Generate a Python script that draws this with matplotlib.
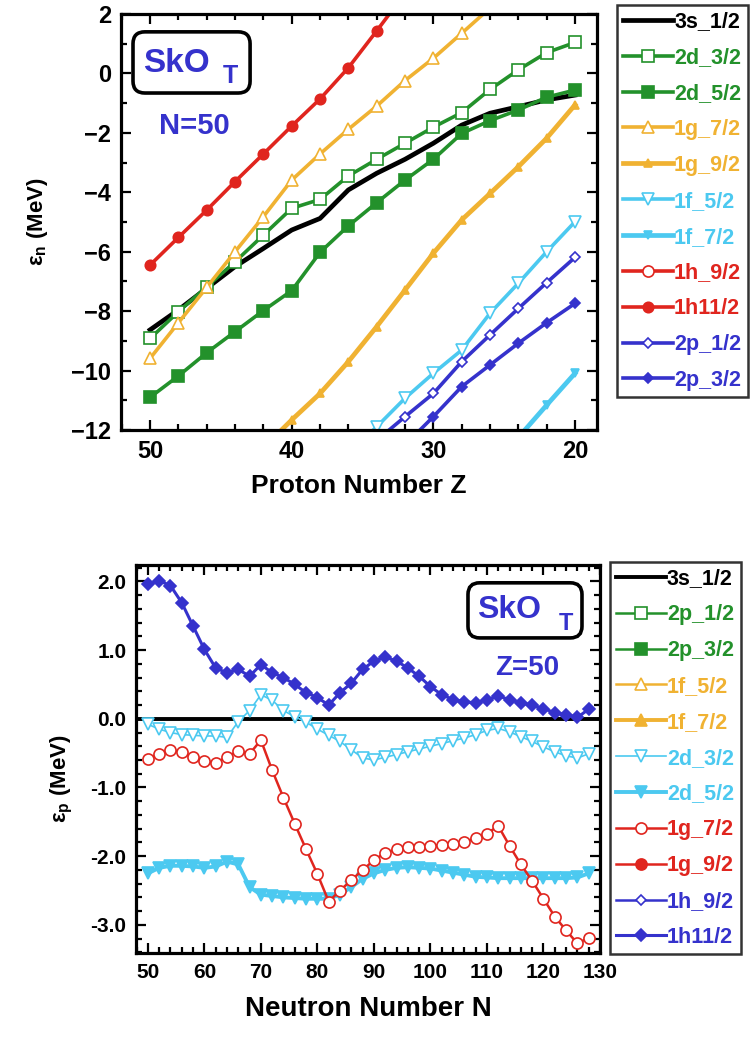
import numpy as np
import matplotlib.pyplot as plt
from matplotlib.patches import FancyBboxPatch
from matplotlib.ticker import MultipleLocator, FormatStrFormatter

plt.rcParams['font.family'] = ['Liberation Sans', 'DejaVu Sans']
plt.rcParams['font.weight'] = 'bold'
plt.rcParams['mathtext.fontset'] = 'custom'
plt.rcParams['mathtext.rm'] = 'Liberation Sans:bold'
plt.rcParams['mathtext.bf'] = 'Liberation Sans:bold'
plt.rcParams['mathtext.it'] = 'Liberation Sans:bold'

# colours
green = '#23912B'
orange = '#F0B232'
cyan = '#4CC9F0'
red = '#E0251E'
blue = '#3532CC'

# --- top panel data: neutron levels of N=50 isotones vs Z
z_3s12 = [50, 48, 46, 44, 42, 40, 38, 36, 34, 32, 30, 28, 26, 24, 22, 20]
e_3s12 = [-8.63, -7.96, -7.23, -6.50, -5.89, -5.27, -4.88, -3.92, -3.36, -2.89,
          -2.35, -1.74, -1.34, -1.12, -0.89, -0.73]
z_2d32 = z_3s12
e_2d32 = [-8.92, -8.02, -7.18, -6.34, -5.44, -4.54, -4.24, -3.45, -2.89, -2.35,
          -1.81, -1.32, -0.54, 0.12, 0.70, 1.04]
z_2d52 = z_3s12
e_2d52 = [-10.90, -10.18, -9.40, -8.69, -7.98, -7.31, -6.02, -5.13, -4.35, -3.59,
          -2.89, -2.02, -1.59, -1.23, -0.80, -0.56]
z_1g72 = [50, 48, 46, 44, 42, 40, 38, 36, 34, 32, 30, 28, 26, 24]
e_1g72 = [-9.59, -8.39, -7.20, -6.00, -4.82, -3.59, -2.71, -1.88, -1.10, -0.24,
          0.51, 1.35, 2.2, 2.9]
z_1g92 = [42, 40, 38, 36, 34, 32, 30, 28, 26, 24, 22, 20]
e_1g92 = [-12.6, -11.66, -10.77, -9.70, -8.52, -7.29, -6.05, -4.93, -4.04, -3.14,
          -2.18, -1.06]
z_1f52 = [36, 34, 32, 30, 28, 26, 24, 22, 20]
e_1f52 = [-12.8, -11.89, -10.93, -10.09, -9.31, -8.07, -7.06, -6.00, -4.99]
z_1f72 = [24, 22, 20]
e_1f72 = [-12.25, -11.16, -10.09]
z_1h92 = []
e_1h92 = []
z_1h112 = [50, 48, 46, 44, 42, 40, 38, 36, 34, 32]
e_1h112 = [-6.45, -5.52, -4.60, -3.64, -2.71, -1.77, -0.86, 0.19, 1.43, 2.7]
z_2p12 = [34, 32, 30, 28, 26, 24, 22, 20]
e_2p12 = [-12.35, -11.55, -10.77, -9.70, -8.80, -7.91, -7.04, -6.19]
z_2p32 = [32, 30, 28, 26, 24, 22, 20]
e_2p32 = [-12.5, -11.55, -10.54, -9.81, -9.08, -8.39, -7.74]

# --- bottom panel data: proton levels of Z=50 isotopes vs N
n_vals = list(range(50, 130, 2))
p_1h112 = [1.96, 2.01, 1.94, 1.69, 1.35, 1.01, 0.74, 0.67, 0.72, 0.62,
           0.79, 0.67, 0.60, 0.50, 0.38, 0.31, 0.20, 0.38, 0.52, 0.72,
           0.84, 0.90, 0.84, 0.74, 0.62, 0.47, 0.35, 0.28, 0.25, 0.23,
           0.28, 0.33, 0.28, 0.23, 0.20, 0.15, 0.09, 0.06, 0.02, 0.14]
p_2d32 = [-0.08, -0.15, -0.20, -0.23, -0.24, -0.25, -0.25, -0.27, -0.04, 0.12,
          0.35, 0.27, 0.12, 0.03, -0.05, -0.15, -0.24, -0.33, -0.45, -0.57,
          -0.60, -0.56, -0.52, -0.48, -0.44, -0.40, -0.36, -0.32, -0.28, -0.23,
          -0.17, -0.14, -0.19, -0.26, -0.33, -0.41, -0.48, -0.54, -0.57, -0.51]
p_2d52 = [-2.25, -2.17, -2.14, -2.14, -2.15, -2.17, -2.15, -2.08, -2.12, -2.45,
          -2.56, -2.58, -2.60, -2.61, -2.62, -2.62, -2.62, -2.56, -2.45, -2.33,
          -2.25, -2.20, -2.17, -2.16, -2.17, -2.18, -2.21, -2.24, -2.27, -2.30,
          -2.31, -2.32, -2.32, -2.32, -2.32, -2.32, -2.32, -2.32, -2.31, -2.25]
p_1g72 = [-0.59, -0.51, -0.45, -0.49, -0.56, -0.62, -0.64, -0.56, -0.47, -0.51,
          -0.31, -0.75, -1.15, -1.53, -1.90, -2.26, -2.66, -2.50, -2.35, -2.20,
          -2.06, -1.95, -1.90, -1.87, -1.86, -1.85, -1.84, -1.82, -1.79, -1.74,
          -1.67, -1.56, -1.85, -2.12, -2.36, -2.62, -2.88, -3.08, -3.27, -3.19]

fig = plt.figure(figsize=(7.53, 10.42), dpi=100)
ax1 = fig.add_axes([0.1607, 0.5873, 0.6321, 0.3993])
ax2 = fig.add_axes([0.1806, 0.0854, 0.6162, 0.3724])

def style(m, c, filled, ms, lw):
    return dict(marker=m, color=c, mec=c, mfc=c if filled else 'white',
                ms=ms, lw=lw, mew=1.2)

def sko_box(ax, x0, y0, w, h, aspect):
    # rounded frame around the "SkO_T" tag (axes coords)
    ax.add_patch(FancyBboxPatch((x0, y0), w, h, transform=ax.transAxes,
                                boxstyle='round,pad=0,rounding_size=0.025',
                                mutation_aspect=aspect, fc='white',
                                ec='black', lw=2.6, zorder=5))

# top panel
lw1 = 2.6
ax1.plot(z_3s12, e_3s12, color='black', lw=3.4, label='3s_1/2')
ax1.plot(z_2d32, e_2d32, label='2d_3/2', **style('s', green, False, 8, lw1))
ax1.plot(z_2d52, e_2d52, label='2d_5/2', **style('s', green, True, 8, lw1))
ax1.plot(z_1g72, e_1g72, label='1g_7/2', **style('^', orange, False, 8.5, lw1))
ax1.plot(z_1g92, e_1g92, label='1g_9/2', **style('^', orange, True, 6, lw1 + 0.8))
ax1.plot(z_1f52, e_1f52, label='1f_5/2', **style('v', cyan, False, 8.5, lw1))
ax1.plot(z_1f72, e_1f72, label='1f_7/2', **style('v', cyan, True, 6, lw1 + 0.8))
ax1.plot(z_1h92, e_1h92, label='1h_9/2', **style('o', red, False, 8, lw1))
ax1.plot(z_1h112, e_1h112, label='1h11/2', **style('o', red, True, 7.5, lw1))
ax1.plot(z_2p12, e_2p12, label='2p_1/2', **style('D', blue, False, 5.5, lw1))
ax1.plot(z_2p32, e_2p32, label='2p_3/2', **style('D', blue, True, 5.5, lw1))

ax1.set_xlim(52.05, 18.45)
ax1.set_ylim(-12, 2)
ax1.xaxis.set_major_locator(MultipleLocator(10))
ax1.xaxis.set_minor_locator(MultipleLocator(2))
ax1.yaxis.set_major_locator(MultipleLocator(2))
ax1.yaxis.set_minor_locator(MultipleLocator(1))
ax1.set_xlabel('Proton Number Z', fontsize=19, fontweight='bold', labelpad=8)
ax1.set_ylabel('ε$_\\mathrm{n}$ (MeV)', fontsize=16, fontweight='bold')
ax1.yaxis.set_label_coords(-0.15, 0.5)

# SkO_T tag and N=50 label
sko_box(ax1, 0.0252, 0.810, 0.246, 0.147, 476 / 416)
ax1.text(0.046, 0.861, 'SkO', transform=ax1.transAxes, fontsize=24,
         color=blue, ha='left', va='baseline', zorder=6)
ax1.text(0.229, 0.834, 'T', transform=ax1.transAxes, fontsize=18,
         color=blue, ha='center', va='baseline', zorder=6)
ax1.text(0.155, 0.731, 'N=50', transform=ax1.transAxes, fontsize=21,
         color=blue, ha='center', va='center')

# bottom panel
lw2 = 1.8
ax2.axhline(0, color='black', lw=2.8, label='3s_1/2')
ax2.plot([], [], label='2p_1/2', **style('s', green, False, 8, lw2))
ax2.plot([], [], label='2p_3/2', **style('s', green, True, 8, lw2))
ax2.plot([], [], label='1f_5/2', **style('^', orange, False, 8, lw2))
ax2.plot([], [], label='1f_7/2', **style('^', orange, True, 8, lw2 + 1))
ax2.plot(n_vals, p_2d32, label='2d_3/2', **style('v', cyan, False, 8.5, 1.2))
ax2.plot(n_vals, p_2d52, label='2d_5/2', **style('v', cyan, True, 8.5, lw2 + 1))
ax2.plot(n_vals, p_1g72, label='1g_7/2', **style('o', red, False, 8, lw2))
ax2.plot([], [], label='1g_9/2', **style('o', red, True, 8, lw2))
ax2.plot([], [], label='1h_9/2', **style('D', blue, False, 5.5, lw2))
ax2.plot(n_vals, p_1h112, label='1h11/2', **style('D', blue, True, 6, lw2 + 0.4))

ax2.set_xlim(47.9, 130)
ax2.set_ylim(-3.41, 2.24)
ax2.xaxis.set_major_locator(MultipleLocator(10))
ax2.xaxis.set_minor_locator(MultipleLocator(2))
ax2.yaxis.set_major_locator(MultipleLocator(1))
ax2.yaxis.set_minor_locator(MultipleLocator(0.2))
ax2.yaxis.set_major_formatter(FormatStrFormatter('%.1f'))
ax2.set_xlabel('Neutron Number N', fontsize=20, fontweight='bold', labelpad=10)
ax2.set_ylabel('ε$_\\mathrm{p}$ (MeV)', fontsize=16, fontweight='bold')
ax2.yaxis.set_label_coords(-0.131, 0.45)

sko_box(ax2, 0.7155, 0.812, 0.2457, 0.142, 464 / 388)
ax2.text(0.735, 0.863, 'SkO', transform=ax2.transAxes, fontsize=23,
         color=blue, ha='left', va='baseline', zorder=6)
ax2.text(0.927, 0.8325, 'T', transform=ax2.transAxes, fontsize=17,
         color=blue, ha='center', va='baseline', zorder=6)
ax2.text(0.843, 0.735, 'Z=50', transform=ax2.transAxes, fontsize=20,
         color=blue, ha='center', va='center')

for ax, fs in ((ax1, 17), (ax2, 15)):
    ax.tick_params(which='both', direction='in', top=True, right=True,
                   labelsize=fs, width=1.6)
    ax.tick_params(which='major', length=7, pad=7)
    ax.tick_params(which='minor', length=4)
    for sp in ax.spines.values():
        sp.set_linewidth(2.3)
    for lab in ax.get_xticklabels() + ax.get_yticklabels():
        lab.set_fontweight('bold')

text_cols = ['black', green, green, orange, orange, cyan, cyan, red, red, blue, blue]

for ax, anchor in ((ax1, (0.8194, 0.9952)), (ax2, (0.810, 0.4607))):
    leg = ax.legend(loc='upper left', bbox_to_anchor=anchor,
                    bbox_transform=fig.transFigure, fontsize=15.5,
                    frameon=True, fancybox=False, edgecolor='black',
                    handlelength=2.3, handletextpad=0.05, labelspacing=0.69,
                    borderpad=0.3, borderaxespad=0, markerscale=1.0)
    leg.get_frame().set_linewidth(1.8)
    for t, c in zip(leg.get_texts(), text_cols):
        t.set_color(c)
        t.set_fontweight('bold')

fig.savefig('out.png', dpi=100)
